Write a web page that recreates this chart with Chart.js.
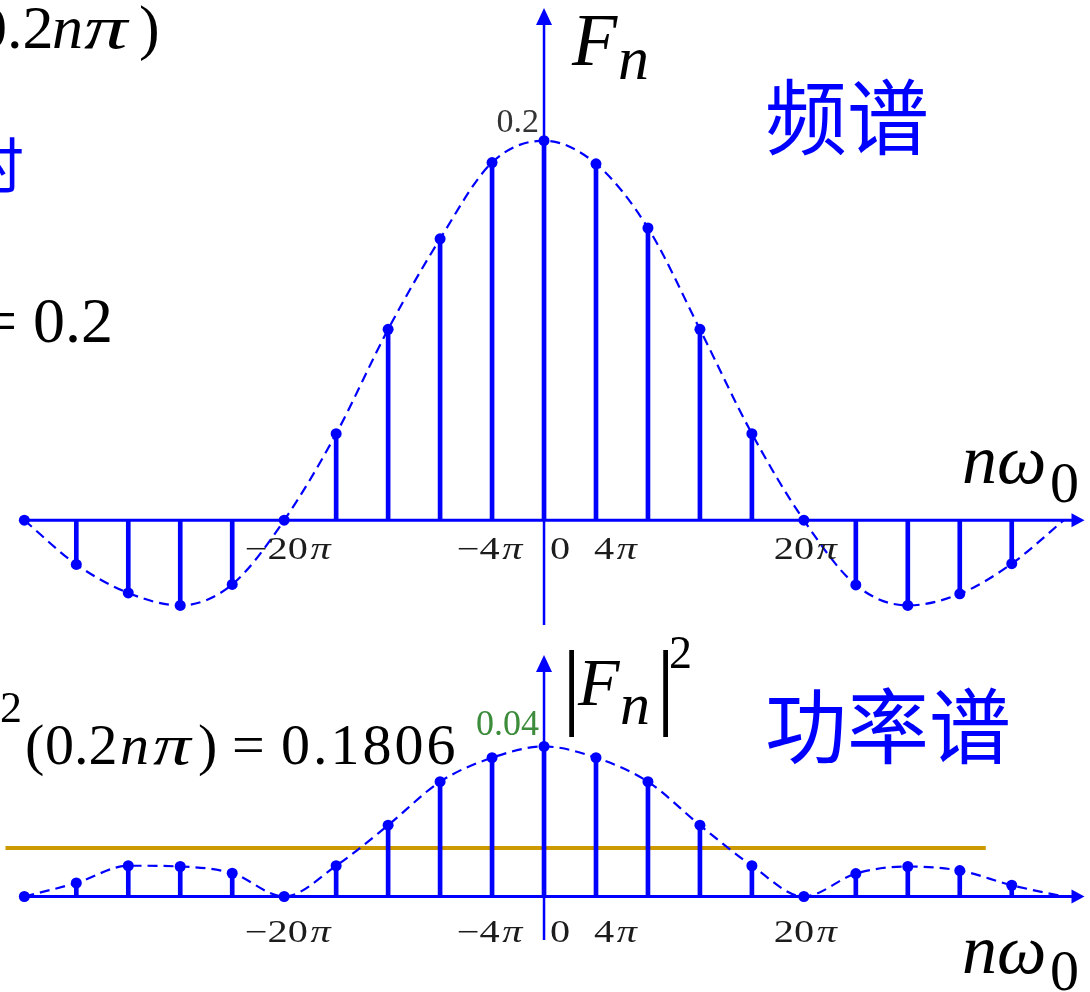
<!DOCTYPE html>
<html>
<head>
<meta charset="utf-8">
<title>频谱与功率谱</title>
<script src="https://cdn.jsdelivr.net/npm/chart.js@4"></script>
<style>
  html, body { margin: 0; padding: 0; background: #fff; }
  #wrap { position: relative; width: 1090px; height: 992px; overflow: hidden; }
  #wrap canvas { position: absolute; left: 0; top: 0; }
</style>
</head>
<body>
<div id="wrap">
  <canvas id="spectrum" width="1090" height="992"></canvas>
  <canvas id="power" width="1090" height="992"></canvas>
</div>
<script>
// harmonic positions n*w0, in units of pi (w0 = 4pi), n = -10 .. 9
const freqs = [-40, -36, -32, -28, -24, -20, -16, -12, -8, -4, 0, 4, 8, 12, 16, 20, 24, 28, 32, 36]
// Fn
const spectrum = [0, -0.0233, -0.0383, -0.0449, -0.0338, 0, 0.0456, 0.1006, 0.1483, 0.1885,
  0.2, 0.1878, 0.154, 0.1006, 0.0456, 0, -0.0341, -0.0449, -0.0388, -0.0229]
// |Fn|^2
const power = [0, 0.0036, 0.0082, 0.008, 0.0062, 0, 0.0082, 0.019, 0.0306, 0.037,
  0.04, 0.037, 0.0306, 0.019, 0.0082, 0, 0.0061, 0.008, 0.0069, 0.003]
// the dashed envelope runs on to 40pi (value 0) without a sample there
const edgeFreq = 40
const edgeValue = 0
// average power level, drawn as a flat line
const avgPower = 0.0129
const avgSpan = [-42, 34]
const tickValues = [-20, -4, 0, 4, 20]
const tickLabels = ['−20π', '−4π', '0', '4π', '20π']

const blue = '#0000ff'
const serif = '"Liberation Serif", "Times New Roman", serif'
const cjk = '"Noto Sans CJK SC", sans-serif'
// nudges so the labels clear the vertical axis
const tickNudge = [3.5, -2.5, 16, 19.5, 1.5]

const pts = vals => freqs.map((f, i) => ({x: f, y: vals[i]}))

function drawRuns(ctx, x, y, parts, opts = {}) {
  const sx = opts.sx || 1
  ctx.save()
  ctx.fillStyle = opts.color || '#000'
  ctx.textBaseline = 'alphabetic'
  ctx.textAlign = 'left'
  let w = 0
  for (const p of parts) { ctx.font = p.f; w += ctx.measureText(p.t).width + (p.gap || 0) }
  let cx = opts.align === 'right' ? -w : opts.align === 'center' ? -w / 2 : 0
  ctx.translate(x, y)
  ctx.scale(sx, 1)
  for (const p of parts) {
    ctx.font = p.f
    ctx.fillText(p.t, cx, p.dy || 0)
    cx += ctx.measureText(p.t).width + (p.gap || 0)
  }
  ctx.restore()
}

// one piece of a formula at a fixed spot, optionally letter-spaced or widened
function drawAt(ctx, x, y, text, font, spacing = 0, sx = 1) {
  ctx.save()
  ctx.fillStyle = '#000'
  ctx.textBaseline = 'alphabetic'
  ctx.textAlign = 'left'
  ctx.font = font
  ctx.translate(x, y)
  ctx.scale(sx, 1)
  let cx = 0
  for (const ch of text) {
    ctx.fillText(ch, cx, 0)
    cx += ctx.measureText(ch).width + spacing
  }
  ctx.restore()
}

function tickParts(label, size) {
  const i = label.indexOf('π')
  if (i < 0) return [{t: label, f: `${size}px ${serif}`}]
  return [{t: label.slice(0, i), f: `${size}px ${serif}`, gap: 2}, {t: 'π', f: `italic ${size}px ${serif}`}]
}

function stemAxes(opts) {
  return {
    id: 'stemAxes',
    beforeDatasetsDraw(chart) {
      const {ctx, chartArea} = chart
      const {x, y} = chart.scales
      const y0 = y.getPixelForValue(0)
      const x0 = x.getPixelForValue(0)
      const left = x.getPixelForValue(freqs[0])
      const right = chartArea.right
      ctx.save()
      ctx.strokeStyle = blue
      ctx.fillStyle = blue
      ctx.lineWidth = 3
      ctx.beginPath()
      ctx.moveTo(left, y0)
      ctx.lineTo(right - 10, y0)
      ctx.stroke()
      ctx.beginPath()
      ctx.moveTo(right, y0)
      ctx.lineTo(right - 13, y0 - 7)
      ctx.lineTo(right - 13, y0 + 7)
      ctx.closePath()
      ctx.fill()
      ctx.lineWidth = 2.5
      ctx.beginPath()
      ctx.moveTo(x0, opts.top + 14)
      ctx.lineTo(x0, opts.bottom)
      ctx.stroke()
      ctx.beginPath()
      ctx.moveTo(x0, opts.top)
      ctx.lineTo(x0 - 8, opts.top + 17)
      ctx.lineTo(x0 + 8, opts.top + 17)
      ctx.closePath()
      ctx.fill()
      ctx.restore()
    },
    afterDraw(chart) {
      const {ctx} = chart
      const {x} = chart.scales
      tickValues.forEach((v, i) => {
        drawRuns(ctx, x.getPixelForValue(v) + tickNudge[i], opts.tickY, tickParts(tickLabels[i], 31),
          {align: 'center', sx: 1.3, color: '#1c1c1c'})
      })
      opts.decorate(ctx, chart)
    }
  }
}

function stemChart(id, values, extra, yMin, yMax, axes) {
  const datasets = [
    {type: 'line', data: pts(values), showLine: false, pointRadius: 5.5, pointBackgroundColor: blue,
      pointBorderWidth: 0, order: 0},
    {type: 'bar', data: pts(values), backgroundColor: blue, barThickness: 4, borderWidth: 0, order: 1},
    {type: 'line', data: [...pts(values), {x: edgeFreq, y: edgeValue}], borderColor: blue, borderWidth: 2.2,
      borderDash: [10, 6], pointRadius: 0, cubicInterpolationMode: 'monotone', fill: false, order: 2},
    ...extra
  ]
  return new Chart(document.getElementById(id), {
    type: 'bar',
    data: {datasets},
    options: {
      responsive: false,
      animation: false,
      devicePixelRatio: 1,
      events: [],
      layout: {padding: 0},
      plugins: {legend: {display: false}, tooltip: {enabled: false}},
      scales: {
        x: {type: 'linear', min: -41.45, max: 41.6, offset: false, display: false},
        y: {type: 'linear', min: yMin, max: yMax, display: false}
      }
    },
    plugins: [stemAxes(axes)]
  })
}

// spectrum Fn
stemChart('spectrum', spectrum, [], -0.2457, 0.27124, {
  top: 8, bottom: 625, tickY: 559,
  decorate(ctx, chart) {
    const y = chart.scales.y
    const x = chart.scales.x
    drawRuns(ctx, x.getPixelForValue(0) - 5, y.getPixelForValue(0.2) - 9,
      [{t: '0.2', f: `34px ${serif}`}], {align: 'right', color: '#333'})
    const f62 = `62px ${serif}`
    const i62 = `italic 62px ${serif}`
    drawAt(ctx, -42, 48, '(', f62)
    drawAt(ctx, -24, 48, '0.2', f62)
    drawAt(ctx, 52, 48, 'n', i62)
    drawAt(ctx, 84, 48, 'π', i62, 0, 1.4)
    drawAt(ctx, 139, 48, ')', f62)
    drawRuns(ctx, -36, 188, [{t: '时', f: `60px ${cjk}`}], {color: blue})
    drawRuns(ctx, 113, 342, [{t: '= 0.2', f: `64px ${serif}`}], {align: 'right'})
    drawRuns(ctx, 572, 65, [{t: 'F', f: `italic 74px ${serif}`}])
    drawRuns(ctx, 618, 79, [{t: 'n', f: `italic 62px ${serif}`}])
    drawRuns(ctx, 765, 148, [{t: '频谱', f: `82px ${cjk}`}], {color: blue})
    drawRuns(ctx, 962, 483, [{t: 'nω', f: `italic 70px ${serif}`}])
    drawRuns(ctx, 1050, 502, [{t: '0', f: `58px ${serif}`}])
  }
})

// power spectrum |Fn|^2 with the average level
stemChart('power', power, [
  {type: 'line', data: avgSpan.map(f => ({x: f, y: avgPower})), borderColor: '#cc9900', borderWidth: 4,
    pointRadius: 0, order: 3}
], -0.024, 0.23757, {
  top: 655, bottom: 940, tickY: 942,
  decorate(ctx, chart) {
    const y = chart.scales.y
    const x = chart.scales.x
    drawRuns(ctx, x.getPixelForValue(0) - 5, y.getPixelForValue(0.04) - 11,
      [{t: '0.04', f: `36px ${serif}`}], {align: 'right', color: '#3c8c3c'})
    const f58 = `58px ${serif}`
    const i58 = `italic 58px ${serif}`
    drawAt(ctx, 0, 722, '2', `44px ${serif}`)
    drawAt(ctx, 25, 764, '(', f58)
    drawAt(ctx, 45, 764, '0.2', f58)
    drawAt(ctx, 120, 764, 'n', i58)
    drawAt(ctx, 153, 764, 'π', i58, 0, 1.3)
    drawAt(ctx, 198, 764, ')', f58)
    drawAt(ctx, 232, 764, '=', f58)
    drawAt(ctx, 281, 764, '0.1806', f58, 3)
    drawRuns(ctx, 562, 717, [{t: '|', f: `96px ${serif}`}])
    drawRuns(ctx, 578, 705, [{t: 'F', f: `italic 68px ${serif}`}])
    drawRuns(ctx, 620, 724, [{t: 'n', f: `italic 60px ${serif}`}])
    drawRuns(ctx, 656, 717, [{t: '|', f: `96px ${serif}`}])
    drawRuns(ctx, 669, 668, [{t: '2', f: `46px ${serif}`}])
    drawRuns(ctx, 765, 757, [{t: '功率谱', f: `82px ${cjk}`}], {color: blue})
    drawRuns(ctx, 962, 973, [{t: 'nω', f: `italic 70px ${serif}`}])
    drawRuns(ctx, 1050, 990, [{t: '0', f: `58px ${serif}`}])
  }
})
</script>
</body>
</html>
